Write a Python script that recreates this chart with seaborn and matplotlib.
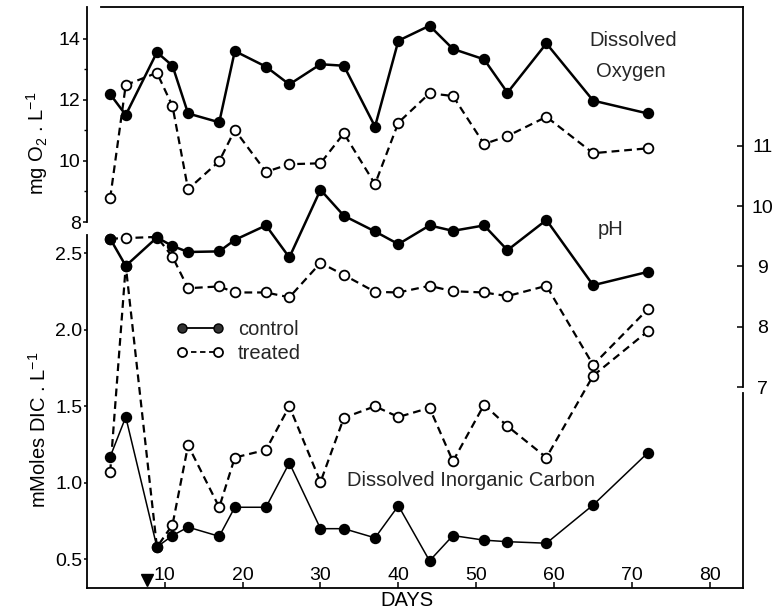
import matplotlib
matplotlib.use("Agg")
import matplotlib.pyplot as plt
from matplotlib.lines import Line2D
import matplotlib.transforms as mtransforms
import numpy as np
import pandas as pd
import seaborn as sns

# ---- data -------------------------------------------------------------
days = [3, 5, 9, 11, 13, 17, 19, 23, 26, 30, 33, 37, 40, 44, 47, 51, 54, 59, 65, 72]

o2_control = [12.18, 11.50, 13.55, 13.11, 11.55, 11.26, 13.59, 13.08, 12.50, 13.16,
              13.11, 11.12, 13.93, 14.42, 13.66, 13.32, 12.23, 13.84, 11.97, 11.55]
o2_treated = [8.78, 12.48, 12.88, 11.79, 9.07, 9.99, 11.01, 9.64, 9.89, 9.92,
              10.90, 9.24, 11.25, 12.21, 12.12, 10.55, 10.81, 11.44, 10.25, 10.41]

ph_control = [9.46, 9.01, 9.48, 9.34, 9.24, 9.25, 9.44, 9.68, 9.15, 10.27,
              9.84, 9.58, 9.37, 9.68, 9.59, 9.68, 9.27, 9.77, 8.69, 8.91]
ph_treated = [9.46, 9.47, 9.49, 9.16, 8.64, 8.67, 8.57, 8.57, 8.49, 9.06,
              8.86, 8.58, 8.57, 8.68, 8.59, 8.57, 8.51, 8.68, 7.37, 8.29]

dic_control = [1.17, 1.43, 0.58, 0.655, 0.71, 0.65, 0.84, 0.84, 1.13, 0.70,
               0.70, 0.64, 0.85, 0.49, 0.655, 0.625, 0.615, 0.605, 0.855, 1.195]
dic_treated = [1.07, 2.42, 0.58, 0.725, 1.245, 0.84, 1.165, 1.215, 1.50, 1.005,
               1.425, 1.50, 1.43, 1.49, 1.14, 1.51, 1.37, 1.165, 1.70, 1.99]

treatment_day = 7.7

x_ticks = [10, 20, 30, 40, 50, 60, 70, 80]
o2_ticks = [8, 10, 12, 14]
o2_minor = [9, 11, 13]
dic_ticks = [0.5, 1.0, 1.5, 2.0, 2.5]
ph_ticks = [7, 8, 9, 10, 11]

# ---- style ------------------------------------------------------------
sns.set_theme(style="ticks")
plt.rcParams["font.family"] = ["Liberation Sans", "DejaVu Sans"]
plt.rcParams["mathtext.default"] = "regular"
plt.rcParams["axes.linewidth"] = 1.3
FS = 14.5
TFS = 14

fig = plt.figure(figsize=(7.73, 6.15), dpi=100)
fig.patch.set_facecolor("white")
rect = [0.1123, 0.0431, 0.8485, 0.9455]

ax_dic = fig.add_axes(rect)
ax_o2 = fig.add_axes(rect, sharex=ax_dic, label="o2")
ax_ph = ax_dic.twinx()
for a in (ax_o2, ax_ph):
    a.patch.set_visible(False)

ax_dic.set_xlim(0, 84.2)
ax_dic.set_ylim(0.309, 4.110)
ax_o2.set_ylim(-3.985, 15.031)
ax_ph.set_ylim(3.669, 13.296)

# ---- series -----------------------------------------------------------
def frame(values):
    return pd.DataFrame({"day": days, "value": values})

filled = dict(color="black", marker="o", markersize=7.2, markerfacecolor="black",
              markeredgecolor="black", markeredgewidth=1.0, legend=False)
hollow = dict(color="black", marker="o", markersize=7.0, markerfacecolor="white",
              markeredgecolor="black", markeredgewidth=1.3, legend=False,
              linestyle=(0, (3.5, 2.2)))

sns.lineplot(data=frame(dic_treated), x="day", y="value", ax=ax_dic, lw=1.6, **hollow)
sns.lineplot(data=frame(dic_control), x="day", y="value", ax=ax_dic, lw=1.1, **filled)
sns.lineplot(data=frame(o2_treated), x="day", y="value", ax=ax_o2, lw=1.6, **hollow)
sns.lineplot(data=frame(o2_control), x="day", y="value", ax=ax_o2, lw=1.8, **filled)
sns.lineplot(data=frame(ph_treated), x="day", y="value", ax=ax_ph, lw=1.6, **hollow)
sns.lineplot(data=frame(ph_control), x="day", y="value", ax=ax_ph, lw=1.8, **filled)

# treatment marker sitting on the day axis
tr = mtransforms.blended_transform_factory(ax_dic.transData, ax_dic.transAxes)
ax_dic.plot([treatment_day], [0.015], marker="v", color="black", markersize=8,
            transform=tr, clip_on=False)

# ---- spines -----------------------------------------------------------
ax_dic.spines["left"].set_bounds(0.309, 2.62)
ax_dic.spines["right"].set_bounds(0.309, 1.587)
ax_dic.spines["top"].set_bounds(1.8, 84.2)
for s in ("top", "right", "bottom"):
    ax_o2.spines[s].set_visible(False)
ax_o2.spines["left"].set_bounds(8, 15.031)
for s in ("top", "left", "bottom"):
    ax_ph.spines[s].set_visible(False)
ax_ph.spines["right"].set_bounds(7, 13.296)
for a in (ax_dic, ax_o2, ax_ph):
    for s in a.spines.values():
        s.set_color("black")

# ---- ticks ------------------------------------------------------------
ax_dic.set_xticks(x_ticks)
ax_dic.tick_params(axis="x", direction="in", length=4, width=1.1, pad=-15.8,
                   labelsize=TFS, colors="black")
ax_dic.set_yticks(dic_ticks)
ax_dic.set_yticklabels([f"{v:.1f}" for v in dic_ticks])
ax_dic.tick_params(axis="y", which="both", left=True, right=False, direction="out",
                   length=2.5, width=1.1, pad=0.8, labelsize=TFS, colors="black")

ax_o2.set_yticks(o2_ticks)
ax_o2.set_yticks(o2_minor, minor=True)
ax_o2.tick_params(axis="y", which="major", direction="out", length=3, width=1.1,
                  pad=1.5, labelsize=TFS, colors="black")
ax_o2.tick_params(axis="y", which="minor", direction="out", length=2.5, width=1.0,
                  colors="black")
ax_o2.tick_params(axis="x", bottom=False, labelbottom=False)

ax_ph.set_yticks(ph_ticks)
ax_ph.tick_params(axis="y", direction="in", length=4, width=1.1, pad=14.4,
                  labelsize=TFS, colors="black")
plt.setp(ax_ph.get_yticklabels(), ha="center")

# ---- labels -----------------------------------------------------------
ax_dic.set_xlabel("DAYS", fontsize=FS, color="black")
ax_dic.xaxis.set_label_coords(0.488, -0.004)
ax_dic.xaxis.label.set_va("top")
ax_dic.set_ylabel("mMoles DIC . L$^{-1}$", fontsize=FS, color="black")
ax_dic.yaxis.set_label_coords(-0.056, 0.272)
ax_o2.set_ylabel("mg O$_2$ . L$^{-1}$", fontsize=FS, color="black")
ax_o2.yaxis.set_label_coords(-0.056, 0.765)
ax_ph.set_ylabel("")
ax_o2.set_xlabel("")

ta = ax_dic.transAxes
ax_dic.text(0.833, 0.942, "Dissolved", transform=ta, fontsize=FS, ha="center", va="center")
ax_dic.text(0.829, 0.889, "Oxygen", transform=ta, fontsize=FS, ha="center", va="center")
ax_dic.text(0.798, 0.618, "pH", transform=ta, fontsize=FS, ha="center", va="center")
ax_dic.text(0.396, 0.185, "Dissolved Inorganic Carbon", transform=ta, fontsize=FS,
            ha="left", va="center")

# ---- legend -----------------------------------------------------------
handles = [
    Line2D([], [], color="black", lw=1.3, marker="o", markersize=6.5,
           markerfacecolor="#333333", markeredgecolor="black"),
    Line2D([], [], color="black", lw=1.3, linestyle=(0, (3, 2)), marker="o",
           markersize=6.5, markerfacecolor="white", markeredgecolor="black",
           markeredgewidth=1.3),
]
ax_ph.legend(handles, ["control", "treated"], loc="upper left",
             bbox_to_anchor=(0.1356, 0.462), bbox_transform=ax_dic.transAxes,
             frameon=False, numpoints=2, handlelength=2.4, handletextpad=0.7,
             borderpad=0, borderaxespad=0, labelspacing=0.25, fontsize=FS)

fig.savefig("out.png", dpi=100, facecolor="white")
